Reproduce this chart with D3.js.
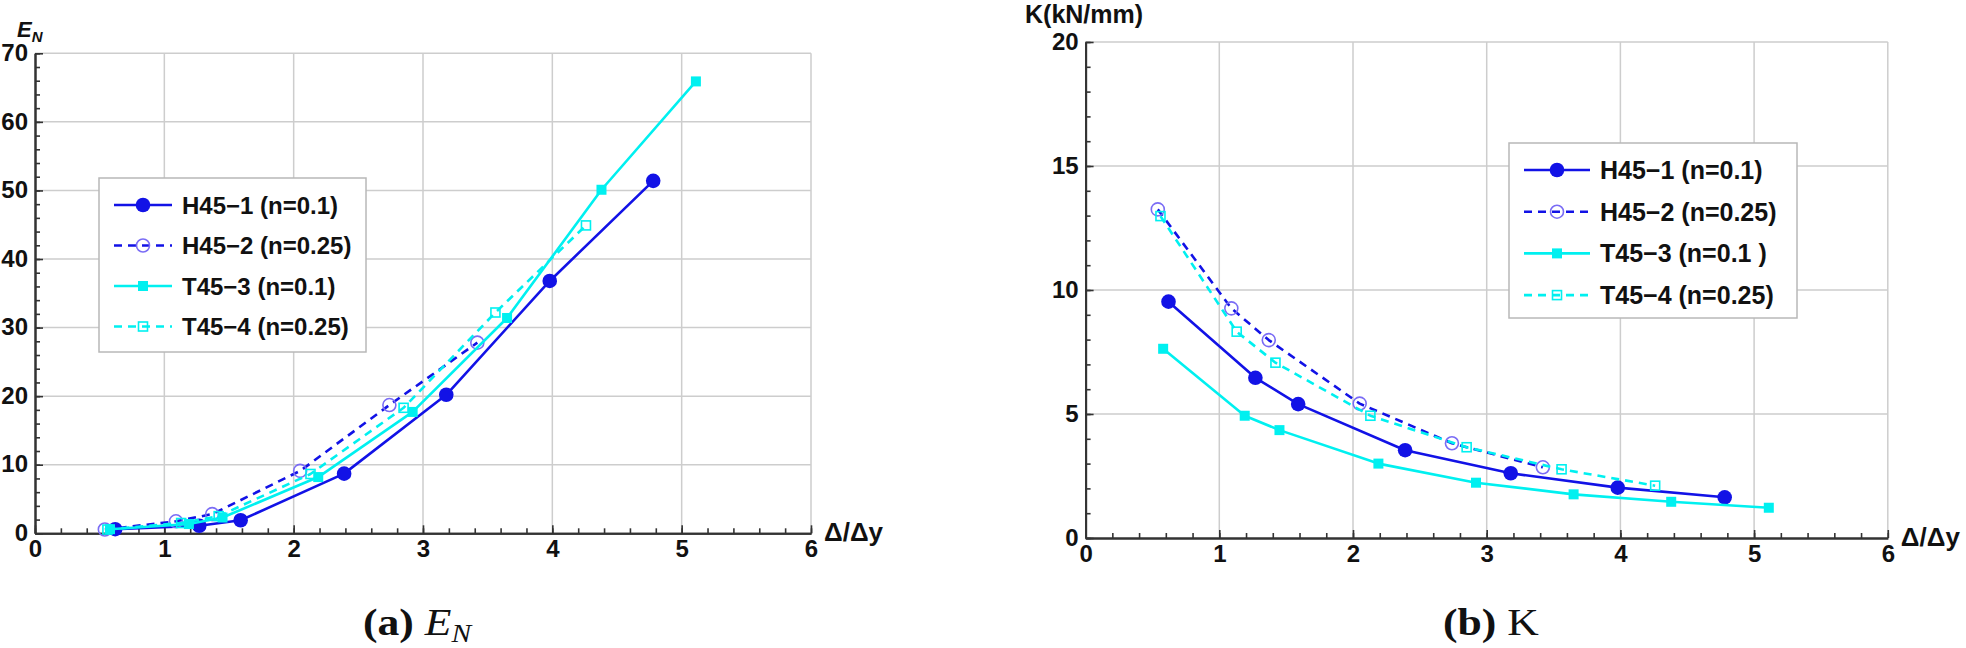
<!DOCTYPE html>
<html>
<head>
<meta charset="utf-8">
<script src="https://cdn.jsdelivr.net/npm/d3@7"></script>
<style>
  body { margin: 0; background: #fff; }
</style>
</head>
<body>
<div id="chart"></div>
<script>
//input data
var xH1 = [0.62, 1.27, 1.59, 2.39, 3.18, 3.98, 4.78];
var enH1 = [0.6, 1.1, 1.9, 8.7, 20.2, 36.8, 51.4];
var kH1 = [9.53, 6.46, 5.40, 3.54, 2.61, 2.03, 1.64];

var xH2 = [0.54, 1.09, 1.37, 2.05, 2.74, 3.42];
var enH2 = [0.55, 1.75, 2.8, 9.1, 18.7, 27.8];
var kH2 = [13.25, 9.26, 7.98, 5.42, 3.82, 2.85];

var xT3 = [0.58, 1.19, 1.45, 2.19, 2.92, 3.65, 4.38, 5.11];
var enT3 = [0.6, 1.35, 2.3, 8.2, 17.7, 31.4, 50.1, 65.9];
var kT3 = [7.63, 4.93, 4.35, 3.0, 2.23, 1.76, 1.46, 1.22];

var xT4 = [0.56, 1.13, 1.42, 2.13, 2.85, 3.56, 4.26];
var enT4 = [0.55, 1.5, 2.5, 8.65, 18.3, 32.2, 44.9];
var kT4 = [12.98, 8.32, 7.07, 4.93, 3.66, 2.77, 2.11];

var namesLeft = ["H45\u22121 (n=0.1)", "H45\u22122 (n=0.25)", "T45\u22123 (n=0.1)", "T45\u22124 (n=0.25)"];
var namesRight = ["H45\u22121 (n=0.1)", "H45\u22122 (n=0.25)", "T45\u22123 (n=0.1 )", "T45\u22124 (n=0.25)"];

var xTicks = [0, 1, 2, 3, 4, 5, 6];
var enTicks = [0, 10, 20, 30, 40, 50, 60, 70];
var kTicks = [0, 5, 10, 15, 20];

var blue = "#1212e6", cyan = "#00f0f0", lightBlue = "#7a6cf5";
var sans = "'Liberation Sans', Arial, sans-serif";
var serif = "'Liberation Serif', 'Times New Roman', serif";

var styles = [
    { color: blue, dash: null, marker: "dot" },
    { color: blue, dash: "8,6", marker: "ring" },
    { color: cyan, dash: null, marker: "square" },
    { color: cyan, dash: "8,6", marker: "box" }
];

var svg = d3.select("#chart").append("svg")
    .attr("width", 1966)
    .attr("height", 648)
    .style("font-family", sans);

function zip(xs, ys) {
    return xs.map(function (d, i) { return { x: d, y: ys[i] }; });
}

function drawMarker(g, type, cx, cy) {
    if (type == "dot") {
        g.append("circle").attr("cx", cx).attr("cy", cy).attr("r", 7.3).attr("fill", blue);
    } else if (type == "ring") {
        g.append("circle").attr("cx", cx).attr("cy", cy).attr("r", 6.5)
            .attr("fill", "none").attr("stroke", lightBlue).attr("stroke-width", 1.6);
    } else if (type == "square") {
        g.append("rect").attr("x", cx - 5).attr("y", cy - 5).attr("width", 10).attr("height", 10).attr("fill", cyan);
    } else {
        g.append("rect").attr("x", cx - 4.5).attr("y", cy - 4.5).attr("width", 9).attr("height", 9)
            .attr("fill", "none").attr("stroke", cyan).attr("stroke-width", 1.6);
    }
}

////////////////////////////////panel drawing
function panel(opt) {
    var x = d3.scaleLinear().domain([0, 6]).range([opt.x0, opt.x1]);
    var y = d3.scaleLinear().domain([0, opt.yMax]).range([opt.y0, opt.y1]);
    var g = svg.append("g");

    // grid
    g.selectAll(".gx").data(xTicks.slice(1)).enter().append("line")
        .attr("x1", function (d) { return x(d); }).attr("x2", function (d) { return x(d); })
        .attr("y1", y(0)).attr("y2", y(opt.yMax))
        .attr("stroke", "#cdcdcd").attr("stroke-width", 1.5);
    g.selectAll(".gy").data(opt.yTicks.slice(1)).enter().append("line")
        .attr("x1", x(0)).attr("x2", x(6))
        .attr("y1", function (d) { return y(d); }).attr("y2", function (d) { return y(d); })
        .attr("stroke", "#cdcdcd").attr("stroke-width", 1.5);

    // minor ticks
    var xMinor = d3.range(0, 31).map(function (i) { return i * 0.2; });
    var yMinor = d3.range(0, opt.yMax / opt.yMinor + 1).map(function (i) { return i * opt.yMinor; });
    g.append("g").attr("transform", "translate(0," + y(0) + ")")
        .call(d3.axisBottom(x).tickValues(xMinor).tickSize(-5).tickSizeOuter(0).tickFormat(""));
    g.append("g").attr("transform", "translate(" + x(0) + ",0)")
        .call(d3.axisLeft(y).tickValues(yMinor).tickSize(-5).tickSizeOuter(0).tickFormat(""));

    // major ticks + labels
    var ax = g.append("g").attr("transform", "translate(0," + y(0) + ")")
        .call(d3.axisBottom(x).tickValues(xTicks).tickSize(-8).tickSizeOuter(0)
            .tickPadding(7).tickFormat(d3.format("d")));
    var ay = g.append("g").attr("transform", "translate(" + x(0) + ",0)")
        .call(d3.axisLeft(y).tickValues(opt.yTicks).tickSize(-8).tickSizeOuter(0)
            .tickPadding(7).tickFormat(d3.format("d")));
    g.selectAll(".domain").attr("stroke", "#333").attr("stroke-width", 2);
    g.selectAll(".tick line").attr("stroke", "#333").attr("stroke-width", 1.6);
    [ax, ay].forEach(function (a) {
        a.attr("font-family", sans);
        a.selectAll("text")
            .attr("font-size", 24).attr("font-weight", "bold").attr("fill", "#111");
    });
    ay.selectAll("text").attr("dy", "0.3em");

    // series
    var line = d3.line()
        .x(function (d) { return x(d.x); })
        .y(function (d) { return y(d.y); });
    opt.series.forEach(function (s, i) {
        var st = styles[i];
        g.append("path").datum(s)
            .attr("d", line)
            .attr("fill", "none")
            .attr("stroke", st.color)
            .attr("stroke-width", 2.6)
            .attr("stroke-linejoin", "round")
            .attr("stroke-dasharray", st.dash);
        s.forEach(function (p) { drawMarker(g, st.marker, x(p.x), y(p.y)); });
    });

    // legend
    var lg = g.append("g");
    lg.append("rect")
        .attr("x", opt.lx).attr("y", opt.ly)
        .attr("width", opt.lw).attr("height", opt.lh)
        .attr("fill", "white").attr("stroke", "#b8b8b8").attr("stroke-width", 1.5);
    opt.names.forEach(function (name, i) {
        var st = styles[i];
        var ry = opt.ly + opt.rowTop + i * opt.rowGap;
        lg.append("line")
            .attr("x1", opt.lx + 15).attr("x2", opt.lx + 15 + opt.sample)
            .attr("y1", ry).attr("y2", ry)
            .attr("stroke", st.color).attr("stroke-width", 2.6)
            .attr("stroke-dasharray", st.dash);
        drawMarker(lg, st.marker, opt.lx + 15 + opt.sample / 2, ry);
        lg.append("text")
            .attr("x", opt.lx + 15 + opt.sample + 10)
            .attr("y", ry)
            .attr("dy", "0.36em")
            .attr("font-size", opt.lfont)
            .attr("font-weight", "bold")
            .attr("fill", "#111")
            .text(name);
    });

    // x axis label
    g.append("text")
        .attr("x", x(6) + 13).attr("y", y(0) + 8)
        .attr("font-size", 26).attr("font-weight", "bold").attr("fill", "#111")
        .text("\u0394/\u0394y");
}

panel({
    x0: 35, x1: 811, y0: 533.3, y1: 53.3, yMax: 70, yTicks: enTicks, yMinor: 2,
    series: [zip(xH1, enH1), zip(xH2, enH2), zip(xT3, enT3), zip(xT4, enT4)],
    names: namesLeft,
    lx: 99, ly: 178, lw: 267, lh: 174, rowTop: 27, rowGap: 40.5, sample: 58, lfont: 24
});

panel({
    x0: 1085.6, x1: 1887.8, y0: 538, y1: 42, yMax: 20, yTicks: kTicks, yMinor: 1,
    series: [zip(xH1, kH1), zip(xH2, kH2), zip(xT3, kT3), zip(xT4, kT4)],
    names: namesRight,
    lx: 1509, ly: 143, lw: 288, lh: 175, rowTop: 27, rowGap: 41.7, sample: 66, lfont: 25
});

////////////////////////////////axis titles
var en = svg.append("text")
    .attr("x", 17).attr("y", 37)
    .attr("font-weight", "bold").attr("font-style", "italic").attr("fill", "#111");
en.append("tspan").attr("font-size", 22).text("E");
en.append("tspan").attr("font-size", 15).attr("dy", 5).text("N");

svg.append("text")
    .attr("x", 1025).attr("y", 23)
    .attr("font-size", 25).attr("font-weight", "bold").attr("fill", "#111")
    .text("K(kN/mm)");

////////////////////////////////captions (slightly widened like the source)
var capA = svg.append("g").attr("transform", "translate(363,635) scale(1.18,1)")
    .append("text")
    .style("font-family", serif)
    .attr("font-size", 37).attr("fill", "#111");
capA.append("tspan").attr("font-weight", "bold").text("(a) ");
capA.append("tspan").attr("font-style", "italic").text("E");
capA.append("tspan").attr("font-style", "italic").attr("font-size", 25).attr("dy", 7).text("N");

var capB = svg.append("g").attr("transform", "translate(1443,635) scale(1.18,1)")
    .append("text")
    .style("font-family", serif)
    .attr("font-size", 37).attr("fill", "#111");
capB.append("tspan").attr("font-weight", "bold").text("(b) ");
capB.append("tspan").text("K");
</script>
</body>
</html>
